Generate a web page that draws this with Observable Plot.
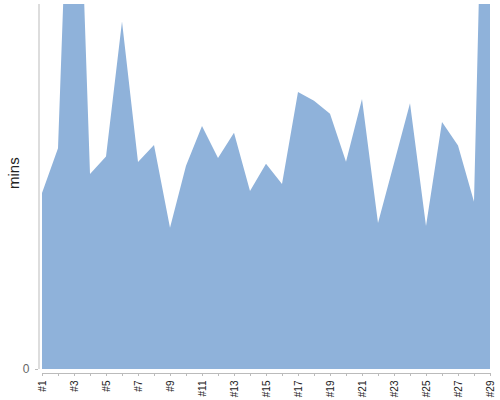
<!DOCTYPE html>
<html><head><meta charset="utf-8">
<script src="https://cdn.jsdelivr.net/npm/d3@7"></script>
<script src="https://cdn.jsdelivr.net/npm/@observablehq/plot@0.6"></script>
<style>body{margin:0;background:#fff;font-family:"Liberation Sans",Arial,sans-serif;}</style>
</head><body><div id="chart"></div>
<script>
const categories = ["#1","#2","#3","#4","#5","#6","#7","#8","#9","#10","#11","#12","#13","#14","#15","#16","#17","#18","#19","#20","#21","#22","#23","#24","#25","#26","#27","#28","#29"];
const mins = [48.2,60.5,183,53.4,58.2,95.2,56.7,61.4,38.7,55.7,66.6,57.8,64.7,48.8,56.2,50.7,75.9,73.5,69.9,56.8,74,40,56.4,72.8,39.2,67.7,61.2,45.8,229];
const yTicks = [0];
const yLabel = "mins";

const data = categories.map((c, i) => ({cat: c, v: mins[i]}));

const chart = Plot.plot({
  width: 500, height: 400,
  marginLeft: 42, marginRight: 10, marginTop: 4, marginBottom: 27,
  style: {fontFamily: "'Liberation Sans', Arial, sans-serif", background: "#fff"},
  x: {type: "point", domain: categories, padding: 0},
  y: {domain: [0, 100], insetBottom: 4},
  marks: [
    Plot.areaY(data, {x: "cat", y: "v", fill: "#8fb2da", clip: true}),
    Plot.ruleX([categories[0]], {y1: 0, y2: 100, dx: -3.5, stroke: "#bbb"}),
    Plot.ruleY([0], {dy: 4, stroke: "#bbb"}),
    Plot.axisY({ticks: yTicks, tickSize: 3, dx: -4, label: null, stroke: "#bbb", color: "#666", fontSize: 12}),
    Plot.axisX({tickRotate: -90, tickSize: 3, tickPadding: 4, label: null, stroke: "#bbb", color: "#222", fontSize: 10,
      tickFormat: (d) => (categories.indexOf(d) % 2 === 0 ? d : "")}),
    Plot.text([yLabel], {frameAnchor: "left", dx: -28, rotate: -90, fontSize: 15, fill: "#222", text: d => d})
  ]
});
document.getElementById("chart").appendChild(chart);
</script>
</body></html>
